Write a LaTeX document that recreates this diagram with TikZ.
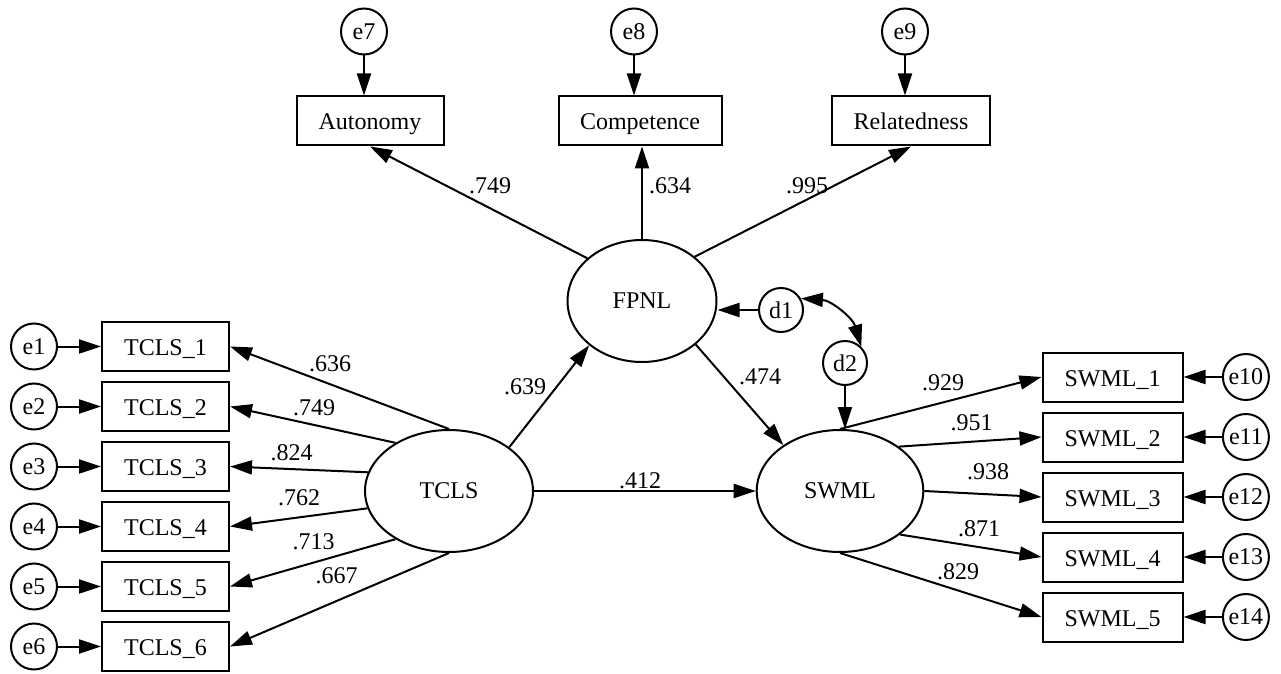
\documentclass[tikz,border=0pt]{standalone}
\usepackage{fontspec}
\setmainfont{Liberation Serif}
\usetikzlibrary{arrows.meta,positioning,shapes.geometric}

\begin{document}
\begin{tikzpicture}[
  x=0.5pt, y=0.5pt,
  font=\fontsize{12}{14}\selectfont,
  line width=1pt,
  node distance=4.5pt,
  item/.style={rectangle, draw, minimum height=24.5pt, inner sep=0pt,
    text height=10pt, text depth=1pt},
  latent/.style={ellipse, draw, minimum height=61pt, inner sep=0pt},
  err/.style={circle, draw, minimum size=23pt, inner sep=0pt},
  coef/.style={inner sep=0pt},
  arr/.style={-{Triangle[length=11pt, width=7pt]}},
  dbl/.style={{Triangle[length=11pt, width=7pt]}-{Triangle[length=11pt, width=7pt]}}
]
\useasboundingbox (0,0) rectangle (1281,-674);

% Latent variables
\node[latent, minimum width=84pt] (tcls) at (449,-491) {TCLS};
\node[latent, minimum width=74.5pt] (fpnl) at (642,-301) {FPNL};
\node[latent, minimum width=83.3pt] (swml) at (840,-491) {SWML};

% Disturbances
\node[err, minimum size=22pt] (d1) at (781,-310) {d1};
\node[err, minimum size=22pt] (d2) at (845,-363) {d2};

% FPNL indicators
\node[item, minimum width=73.5pt] (auto) at (370,-121) {Autonomy};
\node[item, minimum width=81.5pt] (comp) at (640,-121) {Competence};
\node[item, minimum width=79pt] (rel) at (911,-121) {Relatedness};
\node[err, above=20pt of auto, xshift=-3pt] (e7) {e7};
\node[err, above=20pt of comp, xshift=-3pt] (e8) {e8};
\node[err, above=20pt of rel, xshift=-3pt] (e9) {e9};

% TCLS indicators
\node[item, minimum width=63.5pt] (tc1) at (165.5,-346.5) {TCLS\_1};
\node[item, minimum width=63.5pt, below=of tc1] (tc2) {TCLS\_2};
\node[item, minimum width=63.5pt, below=of tc2] (tc3) {TCLS\_3};
\node[item, minimum width=63.5pt, below=of tc3] (tc4) {TCLS\_4};
\node[item, minimum width=63.5pt, below=of tc4] (tc5) {TCLS\_5};
\node[item, minimum width=63.5pt, below=of tc5] (tc6) {TCLS\_6};
\node[err, left=21.5pt of tc1] (e1) {e1};
\node[err, left=21.5pt of tc2] (e2) {e2};
\node[err, left=21.5pt of tc3] (e3) {e3};
\node[err, left=21.5pt of tc4] (e4) {e4};
\node[err, left=21.5pt of tc5] (e5) {e5};
\node[err, left=21.5pt of tc6] (e6) {e6};

% SWML indicators
\node[item, minimum width=70pt] (sw1) at (1112.5,-377) {SWML\_1};
\node[item, minimum width=70pt, below=of sw1] (sw2) {SWML\_2};
\node[item, minimum width=70pt, below=of sw2] (sw3) {SWML\_3};
\node[item, minimum width=70pt, below=of sw3] (sw4) {SWML\_4};
\node[item, minimum width=70pt, below=of sw4] (sw5) {SWML\_5};
\node[err, right=19.2pt of sw1] (e10) {e10};
\node[err, right=19.2pt of sw2] (e11) {e11};
\node[err, right=19.2pt of sw3] (e12) {e12};
\node[err, right=19.2pt of sw4] (e13) {e13};
\node[err, right=19.2pt of sw5] (e14) {e14};

% Coefficients
\node[coef] (c7) at (490,-186) {.749};
\node[coef] (c8) at (670,-186) {.634};
\node[coef] (c9) at (807,-186) {.995};
\node[coef] (c1) at (330,-364) {.636};
\node[coef] (c2) at (314,-407.5) {.749};
\node[coef] (c3) at (291.5,-452.5) {.824};
\node[coef] (c4) at (299,-497.5) {.762};
\node[coef] (c5) at (313.5,-541.5) {.713};
\node[coef] (c6) at (336.5,-575.5) {.667};
\node[coef] (c10) at (943,-382.5) {.929};
\node[coef] (c11) at (971.5,-422.5) {.951};
\node[coef] (c12) at (988,-471.5) {.938};
\node[coef] (c13) at (979,-529) {.871};
\node[coef] (c14) at (958,-571.5) {.829};
\node[coef] (ctf) at (525,-387) {.639};
\node[coef] (cfs) at (760,-376.5) {.474};
\node[coef] (cts) at (640,-481) {.412};

% Structural paths
\draw[arr] (tcls.36) -- (fpnl.220);
\draw[arr] (tcls) -- (swml);
\draw[arr] (fpnl.321) -- (swml.141);
\draw[arr] (d1) -- (d1 -| fpnl.east);
\draw[arr] (d2) -- (d2 |- swml.north);
\draw[dbl] (d1.30) to[bend left=35] (d2.45);

% Loadings
\draw[arr] (fpnl.142) -- (auto.south);
\draw[arr] (fpnl.north) -- (fpnl.north |- comp.south);
\draw[arr] (fpnl.40) -- (rel.south);
\draw[arr] (tcls.90) -- (tc1.east);
\draw[arr] (tcls.138) -- (tc2.east);
\draw[arr] (tcls.167) -- (tc3.east);
\draw[arr] (tcls.192) -- (tc4.east);
\draw[arr] (tcls.222) -- (tc5.east);
\draw[arr] (tcls.270) -- (tc6.east);
\draw[arr] (swml.90) -- (sw1.west);
\draw[arr] (swml.37) -- (sw2.west);
\draw[arr] (swml.0) -- (sw3.west);
\draw[arr] (swml.-36) -- (sw4.west);
\draw[arr] (swml.270) -- (sw5.west);

% Errors
\draw[arr] (e7) -- (e7 |- auto.north);
\draw[arr] (e8) -- (e8 |- comp.north);
\draw[arr] (e9) -- (e9 |- rel.north);
\draw[arr] (e1) -- (tc1);
\draw[arr] (e2) -- (tc2);
\draw[arr] (e3) -- (tc3);
\draw[arr] (e4) -- (tc4);
\draw[arr] (e5) -- (tc5);
\draw[arr] (e6) -- (tc6);
\draw[arr] (e10) -- (sw1);
\draw[arr] (e11) -- (sw2);
\draw[arr] (e12) -- (sw3);
\draw[arr] (e13) -- (sw4);
\draw[arr] (e14) -- (sw5);

\end{tikzpicture}
\end{document}
